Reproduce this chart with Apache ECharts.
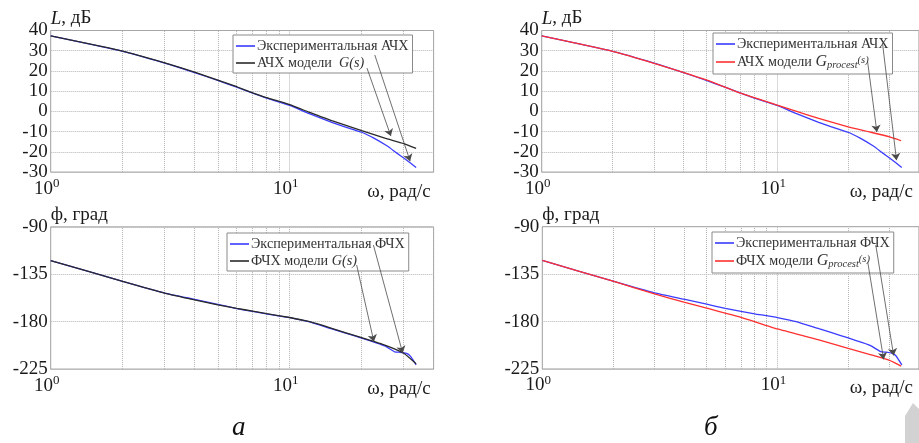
<!DOCTYPE html>
<html><head><meta charset="utf-8">
<script src="https://cdn.jsdelivr.net/npm/echarts@6/dist/echarts.min.js"></script>
<style>html,body{margin:0;padding:0;background:#fff}#c{width:919px;height:443px}</style>
</head><body><div id="c"></div>
<script>
// ---- data ----
// Experimental magnitude (shared by both top plots)
const magExpW = [1, 2, 3, 4, 5, 6, 7, 8, 10, 12, 15, 17, 20, 22.5, 25.5, 28, 30, 32, 33.8];
const magExpL = [37.3, 29.7, 23.9, 19.2, 15.3, 12.0, 9.0, 6.6, 3.0, -1.0, -5.4, -7.6, -10.3, -13.2, -17.0, -20.5, -23.0, -25.5, -27.7];
// Model G(s) magnitude (top-left)
const magModW = [1, 2, 3, 4, 5, 6, 7, 8, 10, 12, 15, 20, 25, 30, 33.8];
const magModL = [37.3, 29.8, 24.0, 19.4, 15.5, 12.2, 9.2, 6.8, 3.3, -0.3, -4.6, -9.5, -13.2, -15.9, -18.3];
// Model Gprocest(s) magnitude (top-right)
const magProW = [1, 2, 3, 5, 7, 10, 12, 15, 20, 25, 30, 33.6];
const magProL = [37.3, 29.7, 23.8, 15.6, 9.0, 3.1, 0.1, -3.5, -7.6, -10.3, -12.6, -14.5];
// Experimental phase (shared by both bottom plots)
const phExpW = [1, 2, 3, 4, 5, 6, 7, 8, 10, 12, 15, 17, 20, 23, 25, 27.5, 29, 30.8, 31.9, 33.8];
const phExpF = [-122, -141.7, -152.8, -158.8, -163.5, -167.5, -170.3, -172.6, -176.2, -180, -186.8, -190.5, -195.5, -200, -203, -208.6, -209, -210.1, -212.4, -221];
// Model G(s) phase (bottom-left)
const phModW = [1, 2, 3, 4, 5, 6, 7, 8, 10, 12, 15, 20, 25, 30, 33.8];
const phModF = [-122, -141.7, -152.8, -159.3, -164, -167.3, -170, -172.3, -176, -179.8, -186.3, -195.2, -202.2, -210, -220];
// Model Gprocest(s) phase (bottom-right)
const phProW = [1, 2, 3, 4, 5, 7, 10, 15, 20, 25, 30, 33.6];
const phProF = [-122, -141.7, -153.8, -161.5, -167.2, -176, -187, -197.3, -205.5, -211.5, -216.8, -222.3];
// Axis ticks
const magTicks = [-30, 40, 10];      // min, max, step
const phTicks = [-225, -90, 45];
const wRange = [1, 40];
const minorW = [2, 3, 4, 5, 6, 7, 8, 9, 20, 30];
// Annotation arrows [fromW, fromY, toW, toY]
const arrowsTL = [[21.06, 21.4, 26.5, -12.2], [22.7, 27.9, 31.9, -24.6]];
const arrowsTR = [[24.2, 24.6, 26.5, -10.2], [28.0, 33.7, 32.1, -24.1]];
const arrowsBL = [[19.06, -126.2, 22.5, -199.0], [22.4, -107.2, 29.7, -209.8]];
const arrowsBR = [[24.2, -123.2, 28.3, -216.0], [26.2, -107.4, 31.2, -212.2]];
// Names
const E_A = 'Экспериментальная АЧХ', M_A1 = 'АЧХ модели  G(s)', M_A2 = 'АЧХ модели Gprocest(s)';
const E_F = 'Экспериментальная ФЧХ', M_F1 = 'ФЧХ модели G(s)', M_F2 = 'ФЧХ модели Gprocest(s)';

const FONT = '"Liberation Serif","Times New Roman",serif';
const TXT = '#1a1a1a';
const BLUE = '#3a3cff', BLACK = '#2a2a2a', RED = '#ff3030';
const zip = (a, b) => a.map((v, i) => [v, b[i]]);

function xAxis(gi, gap) {
  return {
    type: 'log', logBase: 10, gridIndex: gi, min: wRange[0], max: wRange[1],
    axisLine: {show: false, onZero: false}, axisTick: {show: false},
    splitLine: {show: true, lineStyle: {type: 'dotted', color: '#b4b4b4', width: 1}},
    axisLabel: {
      showMinLabel: true, showMaxLabel: false, hideOverlap: false, margin: 5, padding: [0, 8, 0, 0],
      formatter: v => { const e = Math.log10(v); const r = Math.round(e); return Math.abs(e - r) < 1e-6 ? '{b|10}{s|' + r + '}' : ''; },
      rich: {b: {fontSize: 19, fontFamily: FONT, color: TXT}, s: {fontSize: 13, fontFamily: FONT, color: TXT, padding: [0, 0, 10, 0]}}
    },
    name: 'ω, рад/с', nameLocation: 'end', nameGap: gap, nameMoveOverlap: false,
    nameTextStyle: {fontSize: 19, fontFamily: FONT, color: TXT, align: 'right', verticalAlign: 'top', padding: [10, 0, 0, 0]}
  };
}
function yAxis(gi, t, name) {
  return {
    type: 'value', gridIndex: gi, min: t[0], max: t[1], interval: t[2],
    axisLine: {show: false, onZero: false}, axisTick: {show: false},
    splitLine: {show: true, lineStyle: {type: 'dotted', color: '#b4b4b4', width: 1}},
    axisLabel: {fontSize: 19, fontFamily: FONT, color: TXT, margin: 3},
    name: name, nameLocation: 'end', nameGap: 12, nameMoveOverlap: false,
    nameTextStyle: {fontSize: 19, fontFamily: FONT, color: TXT, align: 'left', verticalAlign: 'middle',
      rich: {i: {fontSize: 19, fontFamily: FONT, fontStyle: 'italic', color: TXT}}}
  };
}
function legendFmt(name) {
  if (name.endsWith('Gprocest(s)')) return '{n|' + name.replace('Gprocest(s)', '') + '}{g|G}{sub|procest}{sup|(s)}';
  if (name.endsWith('G(s)')) return '{n|' + name.replace('G(s)', '') + '}{it|G(s)}';
  return '{n|' + name + '}';
}
function legend(data, left, top) {
  return {
    data: data, left: left, top: top, orient: 'vertical', selectedMode: false,
    icon: 'rect', itemWidth: 19, itemHeight: 1.6, itemGap: 3, padding: [4, 4, 3, 3],
    borderColor: '#8a8a8a', borderWidth: 1, backgroundColor: '#fff',
    formatter: legendFmt,
    textStyle: {fontSize: 14.2, fontFamily: FONT, color: '#333', padding: [0, 0, 0, -3],
      rich: {
        n: {fontSize: 14.2, fontFamily: FONT, color: '#333'},
        it: {fontSize: 14.2, fontFamily: FONT, fontStyle: 'italic', color: '#333'},
        g: {fontSize: 16, fontFamily: FONT, fontStyle: 'italic', color: '#333'},
        sub: {fontSize: 10.5, fontFamily: FONT, fontStyle: 'italic', color: '#333', padding: [7, 0, 0, 0]},
        sup: {fontSize: 10.5, fontFamily: FONT, fontStyle: 'italic', color: '#333', padding: [0, 0, 4, 0]}
      }}
  };
}
const gridLines = {
  silent: true, symbol: 'none', z: 1, animation: false, label: {show: false},
  lineStyle: {type: 'dotted', color: '#b4b4b4', width: 1},
  data: minorW.map(v => ({xAxis: v}))
};
function arrowML(arr) {
  return {
    silent: true, symbol: ['none', 'arrow'], symbolSize: 7, z: 6, animation: false, label: {show: false},
    lineStyle: {type: 'solid', color: '#4a4a4a', width: 0.8},
    data: arr.map(a => [{coord: [a[0], a[1]]}, {coord: [a[2], a[3]]}])
  };
}
function line(name, gi, w, v, color, extra) {
  return Object.assign({
    type: 'line', name: name, xAxisIndex: gi, yAxisIndex: gi, data: zip(w, v),
    symbol: 'none', smooth: 0.15, color: color, lineStyle: {color: color, width: 1.3}, animation: false
  }, extra || {});
}

const chart = echarts.init(document.getElementById('c'), null, {renderer: 'canvas'});
chart.setOption({
  backgroundColor: '#fff',
  animation: false,
  grid: [
    {left: 50.7, top: 30.5, width: 382.9, height: 141.6, show: true, borderColor: '#9a9a9a', borderWidth: 1, containLabel: false},
    {left: 541.7, top: 30.5, width: 379.1, height: 141.6, show: true, borderColor: '#9a9a9a', borderWidth: 1, containLabel: false},
    {left: 50.7, top: 226.9, width: 382.9, height: 142.2, show: true, borderColor: '#9a9a9a', borderWidth: 1, containLabel: false},
    {left: 542.3, top: 226.7, width: 377.6, height: 142.3, show: true, borderColor: '#9a9a9a', borderWidth: 1, containLabel: false}
  ],
  xAxis: [xAxis(0, -3), xAxis(1, -6), xAxis(2, -3), xAxis(3, -6)],
  yAxis: [yAxis(0, magTicks, '{i|L}, дБ'), yAxis(1, magTicks, '{i|L}, дБ'), yAxis(2, phTicks, 'ф, град'), yAxis(3, phTicks, 'ф, град')],
  legend: [
    legend([E_A, M_A1], 233, 35),
    legend([E_A, M_A2], 713, 33),
    legend([E_F, M_F1], 227, 233),
    legend([E_F, M_F2], 712, 232)
  ],
  series: [
    line(E_A, 0, magExpW, magExpL, BLUE, {markLine: gridLines}),
    line(M_A1, 0, magModW, magModL, BLACK, {markLine: arrowML(arrowsTL)}),
    line(E_A, 1, magExpW, magExpL, BLUE, {markLine: gridLines}),
    line(M_A2, 1, magProW, magProL, RED, {markLine: arrowML(arrowsTR)}),
    line(E_F, 2, phExpW, phExpF, BLUE, {markLine: gridLines}),
    line(M_F1, 2, phModW, phModF, BLACK, {markLine: arrowML(arrowsBL)}),
    line(E_F, 3, phExpW, phExpF, BLUE, {markLine: gridLines}),
    line(M_F2, 3, phProW, phProF, RED, {markLine: arrowML(arrowsBR)})
  ],
  graphic: [
    {type: 'text', left: 232, top: 414, style: {text: 'а', fontSize: 27, fontFamily: FONT, fontStyle: 'italic', fill: '#111'}},
    {type: 'text', left: 704, top: 414, style: {text: 'б', fontSize: 27, fontFamily: FONT, fontStyle: 'italic', fill: '#111'}},
    {type: 'polygon', shape: {points: [[905, 443], [905, 416], [913, 403], [919, 409], [919, 443]]}, style: {fill: '#d2d2d2'}}
  ]
});
</script>
</body></html>
